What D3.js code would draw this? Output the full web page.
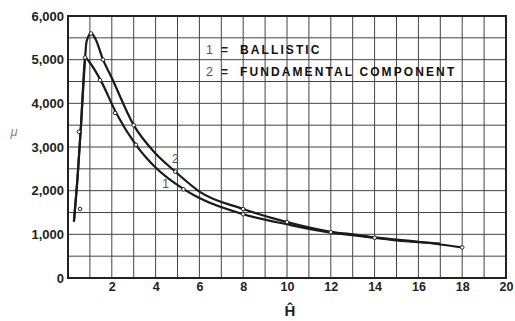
<!DOCTYPE html>
<html>
<head>
<meta charset="utf-8">
<script src="https://cdn.jsdelivr.net/npm/d3@7"></script>
<style>
  body { margin: 0; background: #fff; }
  svg { display: block; }
  text { font-family: "Liberation Sans", Arial, sans-serif; }
</style>
</head>
<body>
<svg id="chart" width="515" height="321"></svg>
<script>
// curve 1 (ballistic)
const ballisticH  = [0.27, 0.45, 0.6, 0.7, 0.78, 1.0, 1.5, 2.2, 3.1, 4.0, 5.3, 6.0, 8.0, 10.0, 12.0, 13.0, 14.0, 15.0, 16.0, 17.0];
const ballisticMu = [1290, 2400, 3550, 4500, 5050, 4930, 4520, 3780, 3050, 2530, 2030, 1830, 1460, 1230, 1040, 980, 920, 860, 820, 790];
// curve 2 (fundamental component)
const fundH  = [0.27, 0.45, 0.6, 0.72, 0.85, 1.05, 1.25, 1.6, 2.0, 3.0, 4.0, 4.9, 6.0, 8.0, 10.0, 12.0, 13.0, 14.0, 16.0, 18.0];
const fundMu = [1290, 2400, 3550, 4550, 5420, 5600, 5480, 5000, 4580, 3500, 2850, 2435, 1980, 1580, 1280, 1060, 1000, 930, 830, 700];
// measured points (open circles)
const markH  = [0.5, 0.55, 0.78, 1.46, 2.15, 3.1, 5.27, 8.0, 1.05, 1.6, 3.0, 4.9, 8.0, 10.0, 12.0, 14.0, 18.0];
const markMu = [3350, 1580, 5050, 4530, 3780, 3050, 2030, 1460, 5600, 5000, 3500, 2435, 1580, 1280, 1050, 920, 700];

const xTicks = [2, 4, 6, 8, 10, 12, 14, 16, 18, 20];
const yTicks = [0, 1000, 2000, 3000, 4000, 5000, 6000];
const legend = ["BALLISTIC", "FUNDAMENTAL COMPONENT"];

const margin = {top: 16, right: 9, bottom: 43, left: 68};
const W = 515, H = 321;
const svg = d3.select("#chart");

const x = d3.scaleLinear([0, 20], [margin.left, W - margin.right]);
const y = d3.scaleLinear([0, 6000], [H - margin.bottom, margin.top]);

// grid
svg.append("g")
   .selectAll("line")
   .data(d3.range(1, 20))
   .join("line")
     .attr("x1", d => x(d)).attr("x2", d => x(d))
     .attr("y1", y(0)).attr("y2", y(6000))
     .attr("stroke", "#444").attr("stroke-width", 1);
svg.append("g")
   .selectAll("line")
   .data(d3.range(500, 6000, 500))
   .join("line")
     .attr("x1", x(0)).attr("x2", x(20))
     .attr("y1", d => y(d)).attr("y2", d => y(d))
     .attr("stroke", "#444").attr("stroke-width", 1);

// frame
svg.append("rect")
   .attr("x", x(0)).attr("y", y(6000))
   .attr("width", x(20) - x(0)).attr("height", y(0) - y(6000))
   .attr("fill", "none").attr("stroke", "#222").attr("stroke-width", 2);

// axes (labels only)
const xAxis = svg.append("g")
   .attr("transform", `translate(0,${y(0)})`)
   .call(d3.axisBottom(x).tickValues(xTicks).tickSize(0).tickPadding(4).tickFormat(d3.format("d")));
xAxis.select(".domain").remove();
xAxis.selectAll("text").attr("font-size", 12.5).attr("font-weight", "bold").attr("fill", "#222");

const yAxis = svg.append("g")
   .attr("transform", `translate(${x(0)},0)`)
   .call(d3.axisLeft(y).tickValues(yTicks).tickSize(0).tickPadding(4).tickFormat(d3.format(",")));
yAxis.select(".domain").remove();
yAxis.selectAll("text").attr("font-size", 13).attr("font-weight", "bold").attr("fill", "#222");

// axis titles
svg.append("text")
   .attr("x", 290).attr("y", 316)
   .attr("text-anchor", "middle")
   .attr("font-size", 15).attr("font-weight", "bold").attr("fill", "#222")
   .text("Ĥ");
svg.append("text")
   .attr("x", 14).attr("y", 136)
   .attr("text-anchor", "middle")
   .attr("font-family", "DejaVu Serif, serif")
   .attr("font-style", "italic")
   .attr("font-size", 13).attr("fill", "#888")
   .text("μ");

// curves
const line = d3.line().curve(d3.curveMonotoneX);
const curves = [
  d3.zip(ballisticH, ballisticMu),
  d3.zip(fundH, fundMu)
];
svg.append("g")
   .selectAll("path")
   .data(curves)
   .join("path")
     .attr("d", d => line(d.map(p => [x(p[0]), y(p[1])])))
     .attr("fill", "none")
     .attr("stroke", "#1a1a1a")
     .attr("stroke-width", 2.2);

svg.append("g")
   .selectAll("circle")
   .data(d3.zip(markH, markMu))
   .join("circle")
     .attr("cx", d => x(d[0])).attr("cy", d => y(d[1]))
     .attr("r", 1.8)
     .attr("fill", "#fff").attr("stroke", "#222").attr("stroke-width", 1);

// curve numbers
svg.append("text").attr("x", x(4.3)).attr("y", 188).attr("font-size", 12).attr("fill", "#555").text("1");
svg.append("text").attr("x", x(4.75)).attr("y", 163).attr("font-size", 12).attr("fill", "#555").text("2");

// legend
const leg = svg.append("g");
legend.forEach((t, i) => {
  const ty = 54 + i * 22;
  leg.append("text").attr("x", 206).attr("y", ty)
     .attr("font-size", 12.5).attr("fill", "#555").text(i + 1);
  leg.append("text").attr("x", 221).attr("y", ty)
     .attr("font-size", 12).attr("font-weight", "bold").attr("fill", "#222").text("=");
  leg.append("text").attr("x", 240).attr("y", ty)
     .attr("font-size", 12).attr("font-weight", "bold").attr("fill", "#111")
     .attr("letter-spacing", 2.1).text(t);
});
</script>
</body>
</html>
